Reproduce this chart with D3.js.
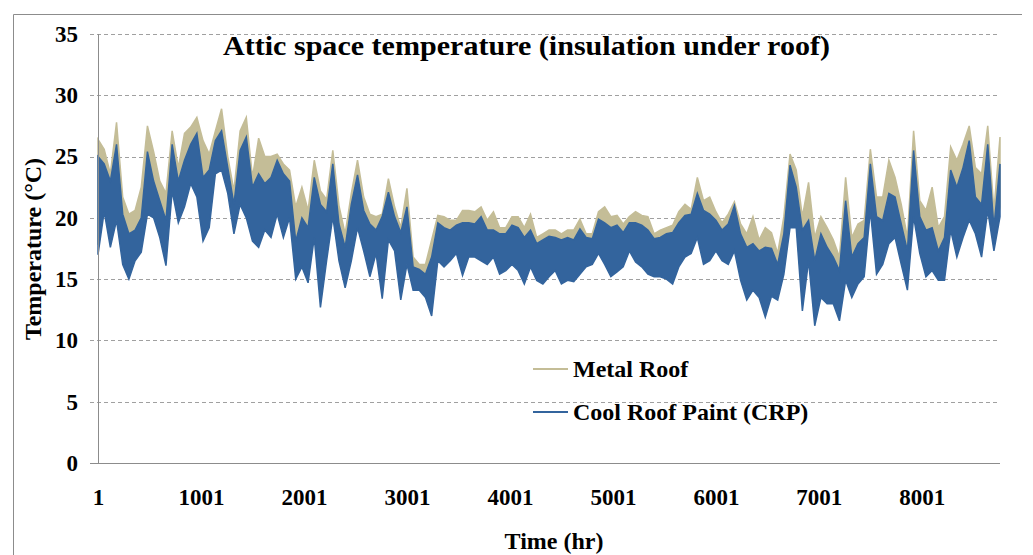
<!DOCTYPE html>
<html><head><meta charset="utf-8">
<script src="https://cdn.jsdelivr.net/npm/d3@7"></script>
<style>
body{margin:0;background:#fff}
svg{display:block}
text{font-family:"Liberation Serif","Times New Roman",serif;font-weight:bold;fill:#000}
</style>
</head><body><svg id="c" width="1033" height="555"></svg>
<script>
// ---- data (one sample every 60 hours, envelope of hourly values) ----
const sampleStep = 60;           // hours between envelope samples
const lastHour = 8760;
const seriesNames = ["Metal Roof", "Cool Roof Paint (CRP)"];
const yTicks = [0, 5, 10, 15, 20, 25, 30, 35];
const xTickLabels = [1, 1001, 2001, 3001, 4001, 5001, 6001, 7001, 8001];

const metalHigh = [26.4,25.6,23.6,27.8,21.7,20.3,20.6,22.5,27.5,25.4,
23.0,22.0,27.1,24.1,26.9,27.4,28.2,26.3,25.2,27.1,
28.9,25.0,22.2,27.1,28.2,23.3,26.5,25.0,25.0,25.2,
24.4,23.9,20.9,22.5,20.6,24.7,22.2,21.5,25.5,21.0,
18.7,22.0,24.7,21.7,20.3,20.1,20.3,23.2,20.9,19.2,
22.4,16.8,16.2,16.2,18.2,20.2,20.1,19.8,19.8,20.6,
20.6,20.5,20.9,19.8,20.5,19.2,19.2,20.1,20.1,19.2,
20.3,18.4,18.7,19.0,19.0,18.7,19.0,19.0,19.9,18.7,
18.7,20.5,20.9,20.1,20.2,19.5,20.1,20.5,20.2,20.1,
18.7,19.0,19.2,19.4,20.5,21.1,20.7,23.3,21.4,21.7,
20.5,19.6,20.3,21.3,19.5,18.7,20.1,18.2,19.2,18.8,
17.1,20.1,25.2,23.9,20.1,22.9,18.4,20.1,19.2,18.2,
16.8,23.3,18.4,19.5,19.8,25.6,21.7,21.7,24.7,23.3,
21.1,18.4,27.1,21.4,20.6,22.5,19.2,20.1,25.8,24.7,
26.0,27.5,24.1,23.6,27.5,20.6,26.6];

const metalLow = [17.8,21.3,18.4,20.6,17.0,15.8,17.3,18.0,21.1,20.8,
19.2,16.9,23.0,20.4,21.7,23.6,22.5,18.9,20.0,24.4,
24.7,22.8,19.5,21.9,20.8,18.9,18.4,19.8,19.2,21.1,
19.2,20.8,15.8,16.8,15.5,19.2,13.5,17.3,20.9,17.3,
15.1,17.3,20.0,18.1,16.0,17.9,14.2,19.0,18.1,14.1,
17.0,14.9,14.9,14.3,12.8,17.3,16.8,17.3,17.9,16.1,
17.6,17.6,17.3,17.0,17.6,16.2,16.5,17.0,16.5,15.4,
16.8,15.7,15.4,16.0,16.5,15.4,15.7,15.6,16.2,16.8,
17.0,17.9,17.0,16.0,16.4,16.8,18.1,17.2,16.8,16.2,
16.0,16.0,15.8,15.4,16.8,17.6,17.9,19.2,17.0,17.3,
18.1,17.3,17.0,18.1,15.7,14.1,14.9,14.3,12.7,14.4,
14.1,16.2,20.0,20.0,13.2,17.3,12.0,14.3,13.8,13.8,
12.4,15.7,14.3,15.4,16.0,21.4,16.2,17.0,18.7,19.2,
17.0,14.9,20.9,17.9,16.0,16.5,15.7,15.7,19.8,17.6,
19.2,20.6,19.5,17.6,21.4,18.1,20.9];

const crpHigh = [25.0,24.4,23.0,26.0,20.3,18.7,19.0,20.0,25.4,23.0,
21.4,19.8,26.0,23.0,24.7,26.0,26.9,23.3,23.9,26.3,
27.1,24.1,21.1,25.5,26.6,22.5,23.6,22.8,23.3,24.7,
23.6,23.0,18.1,20.0,19.2,23.3,21.1,20.5,24.4,19.5,
17.6,21.1,23.5,20.6,19.5,19.0,20.1,22.1,20.1,18.8,
20.9,16.0,15.8,15.4,16.8,19.6,19.2,19.0,19.4,19.6,
19.6,19.5,20.1,19.0,19.0,18.7,18.7,19.4,19.2,18.4,
19.0,17.9,18.2,18.5,18.4,18.2,18.4,18.2,19.1,18.4,
18.3,19.9,19.6,19.2,19.4,18.8,19.6,19.6,19.4,19.0,
18.3,18.4,18.7,18.8,19.6,20.2,20.3,22.0,20.6,20.3,
19.8,19.0,19.5,21.0,18.7,17.6,17.9,17.3,17.6,17.5,
16.2,18.7,24.3,22.5,19.0,19.8,16.5,18.7,17.6,16.8,
15.7,21.4,16.8,17.9,18.4,24.4,20.1,19.8,22.0,21.7,
19.5,17.3,25.5,20.1,19.0,19.2,17.3,18.4,23.9,22.5,
24.1,26.3,21.7,21.1,26.0,19.2,24.4];

const crpLow = [17.0,20.5,17.6,19.8,16.2,15.0,16.5,17.2,20.3,20.0,
18.4,16.1,22.2,19.6,20.9,22.8,21.7,18.1,19.2,23.6,
23.9,22.0,18.7,21.1,20.0,18.1,17.6,19.0,18.4,20.3,
18.4,20.0,15.0,16.0,14.7,18.4,12.7,16.5,20.1,16.5,
14.3,16.5,19.2,17.3,15.2,17.1,13.4,18.2,17.3,13.3,
16.2,14.1,14.1,13.5,12.0,16.5,16.0,16.5,17.1,15.3,
16.8,16.8,16.5,16.2,16.8,15.4,15.7,16.2,15.7,14.6,
16.0,14.9,14.6,15.2,15.7,14.6,14.9,14.8,15.4,16.0,
16.2,17.1,16.2,15.2,15.6,16.0,17.3,16.4,16.0,15.4,
15.2,15.2,15.0,14.6,16.0,16.8,17.1,18.4,16.2,16.5,
17.3,16.5,16.2,17.3,14.9,13.3,14.1,13.5,11.9,13.6,
13.3,15.4,19.2,19.2,12.4,16.5,11.2,13.5,13.0,13.0,
11.6,14.9,13.5,14.6,15.2,20.6,15.4,16.2,17.9,18.4,
16.2,14.1,20.1,17.1,15.2,15.7,14.9,14.9,19.0,16.8,
18.4,19.8,18.7,16.8,20.6,17.3,20.1];

const colors = ["#c4bd97", "#33649d"];

// ---- chart ----
const svg = d3.select("#c");
const plot = {left: 98, right: 1000, top: 34, bottom: 463};

const x = d3.scaleLinear().domain([1, lastHour]).range([plot.left, plot.right]);
const y = d3.scaleLinear().domain([0, 35]).range([plot.bottom, plot.top]);

// outer chart border (top + left visible)
svg.append("path").attr("d", "M13.5,555 L13.5,14.5 L1022,14.5")
  .attr("fill", "none").attr("stroke", "#8c8c8c").attr("stroke-width", 1);

// gridlines
svg.append("g").selectAll("line").data(yTicks.filter(d => d > 0)).join("line")
  .attr("x1", 90).attr("x2", plot.right)
  .attr("y1", d => Math.round(y(d)) + 0.5).attr("y2", d => Math.round(y(d)) + 0.5)
  .attr("stroke", "#a0a0a0").attr("stroke-width", 1).attr("stroke-dasharray", "4,3");

// series as filled envelopes of the hourly traces
function toRows(hi, lo) {
  return hi.map((v, i) => ({h: Math.min(1 + i * sampleStep, lastHour), hi: v, lo: lo[i]}));
}
const area = d3.area().x(d => x(d.h)).y0(d => y(d.lo)).y1(d => y(d.hi)).curve(d3.curveLinear);
const series = [toRows(metalHigh, metalLow), toRows(crpHigh, crpLow)];
svg.append("g").selectAll("path").data(series).join("path")
  .attr("d", area)
  .attr("fill", (d, i) => colors[i])
  .attr("stroke", (d, i) => colors[i]).attr("stroke-width", 1.5).attr("stroke-linejoin", "miter");

// axes lines
svg.append("line").attr("x1", plot.left + 0.5).attr("x2", plot.left + 0.5)
  .attr("y1", plot.top).attr("y2", plot.bottom).attr("stroke", "#8c8c8c");
svg.append("line").attr("x1", 90).attr("x2", plot.right)
  .attr("y1", plot.bottom + 0.5).attr("y2", plot.bottom + 0.5).attr("stroke", "#8c8c8c");

// y-axis via d3.axisLeft (labels only)
const yAxis = svg.append("g").attr("transform", `translate(${plot.left},0)`)
  .call(d3.axisLeft(y).tickValues(yTicks).tickSize(0).tickPadding(20).tickFormat(d3.format("d")));
yAxis.select(".domain").remove();
yAxis.selectAll("text").style("font-family", '"Liberation Serif","Times New Roman",serif')
  .style("font-weight", "bold").style("font-size", "23px").attr("fill", "#000");

// x-axis
const xAxis = svg.append("g").attr("transform", `translate(0,${plot.bottom})`)
  .call(d3.axisBottom(x).tickValues(xTickLabels).tickSize(0).tickPadding(26).tickFormat(d3.format("d")));
xAxis.select(".domain").remove();
xAxis.selectAll("text").style("font-family", '"Liberation Serif","Times New Roman",serif')
  .style("font-weight", "bold").style("font-size", "23px").attr("fill", "#000");

// title
svg.append("text").attr("x", 223).attr("y", 55)
  .attr("font-size", 27).attr("textLength", 607).attr("lengthAdjust", "spacingAndGlyphs")
  .text("Attic space temperature (insulation under roof)");

// axis titles
svg.append("text").attr("transform", "translate(41,249) rotate(-90)")
  .attr("text-anchor", "middle").attr("font-size", 24).text("Temperature (°C)");
svg.append("text").attr("x", 554).attr("y", 549)
  .attr("text-anchor", "middle").attr("font-size", 24).text("Time (hr)");

// legend
const legend = svg.append("g");
seriesNames.forEach((name, i) => {
  const ly = 369 + i * 43;
  legend.append("line").attr("x1", 533).attr("x2", 568).attr("y1", ly).attr("y2", ly)
    .attr("stroke", colors[i]).attr("stroke-width", 2);
  legend.append("text").attr("x", 573).attr("y", ly).attr("dy", "0.33em")
    .attr("font-size", 24).text(name);
});
</script></body></html>
